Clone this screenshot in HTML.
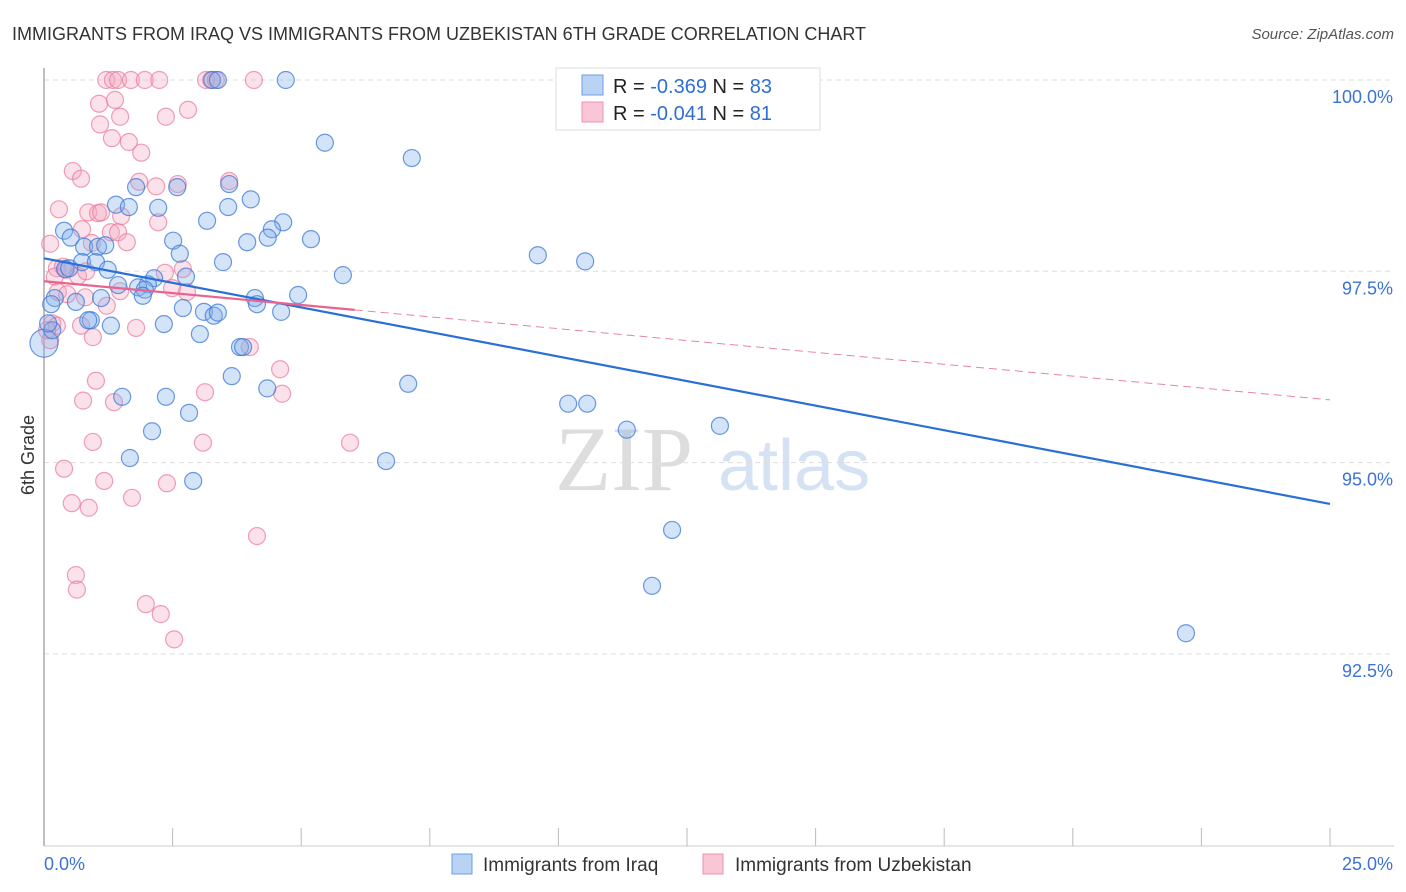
<!DOCTYPE html>
<html><head><meta charset="utf-8"><style>
body{margin:0;background:#fff;font-family:"Liberation Sans",sans-serif}
svg{display:block}
</style></head><body>
<svg id="chart" width="1406" height="892">
<text x="12" y="40" font-size="18" fill="#333">IMMIGRANTS FROM IRAQ VS IMMIGRANTS FROM UZBEKISTAN 6TH GRADE CORRELATION CHART</text>
<text x="1394" y="39" font-size="15" fill="#555" font-style="italic" text-anchor="end">Source: ZipAtlas.com</text>
<g><text x="555" y="490" font-size="92" fill="#ddd" font-family="Liberation Serif,serif">ZIP</text><text x="718" y="490" font-size="72" fill="#d5e2f4">atlas</text></g>
<g id="grid"></g>
<g id="axes"></g>
<g id="pts"></g>
<g id="trend"></g>
<text transform="translate(34,455) rotate(-90)" font-size="18" fill="#333" text-anchor="middle">6th Grade</text>
<g>
<rect x="556" y="68" width="264" height="62" fill="#fff" stroke="#ddd"/>
<rect x="582" y="75" width="21" height="20" fill="#b9d3f5" stroke="#6d9de4"/>
<rect x="582" y="102" width="21" height="20" fill="#f9c6d5" stroke="#ec93b0"/>
<text x="613" y="93" font-size="20" fill="#222">R = <tspan fill="#2f6fd4">-0.369</tspan>   N = <tspan fill="#2f6fd4">83</tspan></text>
<text x="613" y="120" font-size="20" fill="#222">R = <tspan fill="#2f6fd4">-0.041</tspan>   N = <tspan fill="#2f6fd4"> 81</tspan></text>
</g>
<g>
<rect x="452" y="854" width="20" height="20" fill="#b9d3f5" stroke="#6d9de4"/>
<text x="483" y="871" font-size="19" fill="#333">Immigrants from Iraq</text>
<rect x="703" y="854" width="20" height="20" fill="#f9c6d5" stroke="#ec93b0"/>
<text x="735" y="871" font-size="19" fill="#333">Immigrants from Uzbekistan</text>
</g>
</svg>
<script>
const yTicks=[100,97.5,95,92.5];
const yTickLabels=["100.0%","97.5%","95.0%","92.5%"];
const xEndLabels=["0.0%","25.0%"];
const iraqX=[0.0,4.70,3.27,3.38,14.11,5.46,7.15,1.79,2.59,3.60,4.02,2.22,1.40,1.65,3.17,3.58,4.65,4.43,0.39,0.52,2.51,5.19,4.35,3.95,0.78,1.05,1.19,9.60,10.52,2.64,3.48,0.74,1.01,1.24,0.41,0.49,5.81,2.14,2.76,2.02,1.83,1.96,1.44,1.92,0.21,0.62,1.11,4.10,4.94,4.14,2.70,3.11,3.30,3.38,4.61,0.91,0.86,1.30,2.33,3.03,3.81,3.87,3.65,4.34,7.08,1.52,2.37,2.82,10.19,10.56,2.10,11.33,13.14,1.67,6.65,2.90,12.21,11.82,22.20,0.16,0.14,0.08];
const iraqY=[96.56,100,100,100,100,99.18,98.98,98.60,98.60,98.64,98.44,98.33,98.37,98.34,98.16,98.34,98.14,98.05,98.03,97.94,97.90,97.92,97.94,97.88,97.82,97.82,97.84,97.71,97.63,97.73,97.62,97.62,97.62,97.52,97.53,97.54,97.45,97.41,97.43,97.33,97.29,97.26,97.32,97.18,97.15,97.10,97.15,97.15,97.19,97.07,97.02,96.97,96.92,96.96,96.97,96.86,96.86,96.79,96.81,96.68,96.51,96.51,96.13,95.97,96.03,95.86,95.86,95.65,95.77,95.77,95.41,95.43,95.48,95.06,95.02,94.76,94.12,93.39,92.77,96.73,97.07,96.82];
const uzbX=[1.21,1.34,1.44,1.69,1.96,2.24,3.15,3.25,3.34,4.08,1.07,1.38,1.09,1.48,2.37,2.80,1.32,1.65,1.89,0.56,0.72,1.85,2.18,2.60,3.60,0.29,0.86,1.05,1.11,1.30,1.50,2.22,1.44,0.12,1.61,0.93,0.74,0.25,0.37,0.43,0.21,0.66,0.82,2.35,2.70,0.27,0.45,0.80,1.22,1.48,2.49,2.78,0.16,0.25,0.72,0.95,1.79,4.00,4.59,1.01,0.76,1.36,3.13,4.63,0.95,3.09,5.95,0.39,1.17,2.39,1.71,0.54,0.87,4.14,0.62,0.64,1.98,2.27,2.53,0.12,0.06];
const uzbY=[100,100,100,100,100,100,100,100,100,100,99.69,99.74,99.42,99.52,99.52,99.61,99.24,99.19,99.05,98.81,98.71,98.67,98.61,98.64,98.68,98.31,98.27,98.26,98.27,98.01,98.22,98.14,98.01,97.86,97.88,97.87,98.05,97.54,97.56,97.52,97.43,97.44,97.50,97.48,97.53,97.23,97.20,97.16,97.05,97.24,97.28,97.23,96.82,96.79,96.79,96.64,96.76,96.51,96.22,96.07,95.81,95.79,95.92,95.90,95.27,95.26,95.26,94.92,94.76,94.73,94.54,94.47,94.41,94.04,93.53,93.34,93.15,93.02,92.69,96.60,96.73];
const iraqTrend=[97.67,94.46];
const uzbTrend=[97.37,95.82];
const uzbSolidEnd=6.04;
const NS="http://www.w3.org/2000/svg";
const X0=44,X1=1330,YT=80,PXPER=76.52;
const sx=v=>X0+(v/25)*(X1-X0);
const sy=v=>YT+(100-v)*PXPER;
function mk(tag,attrs,parent){const e=document.createElementNS(NS,tag);for(const k in attrs)e.setAttribute(k,attrs[k]);parent.appendChild(e);return e;}
const grid=document.getElementById('grid'),axes=document.getElementById('axes'),pts=document.getElementById('pts'),tr=document.getElementById('trend');
yTicks.forEach((t,i)=>{
 const l=mk('line',{x1:X0,x2:1394,y1:sy(t),y2:sy(t),stroke:'#ddd','stroke-dasharray':'5,4'},grid);
 
 
 const tx=mk('text',{x:1393,y:sy(t)+23,'font-size':18,fill:'#3b73d4','text-anchor':'end'},axes);
 tx.textContent=yTickLabels[i];
 
 
});
const ax=mk('line',{x1:X0,x2:X0,y1:68,y2:846,stroke:'#aaa','stroke-width':1.5},axes);


const bx=mk('line',{x1:X0,x2:1394,y1:846,y2:846,stroke:'#ccc'},axes);


for(let i=1;i<=10;i++){const t=mk('line',{x1:sx(i*2.5),x2:sx(i*2.5),y1:828,y2:846,stroke:'#bbb'},axes);
 
 }
[[0,'start',X0],[25,'end',1393]].forEach((d,i)=>{const t=mk('text',{x:d[2],y:870,'font-size':18,fill:'#3b73d4','text-anchor':d[1]},axes);t.textContent=xEndLabels[i];
 
 });
function drawPts(xs,ys,fill,stroke,name){xs.forEach((x,i)=>{const c=mk('circle',{cx:sx(x),cy:sy(ys[i]),r:(name==='iraq-point'&&i===0)?14:8.5,fill:fill,stroke:stroke,'stroke-width':1.2},pts);
 
 });}
drawPts(uzbX,uzbY,'rgba(244,170,192,0.35)','rgba(232,120,155,0.7)','uzbekistan-point');
drawPts(iraqX,iraqY,'rgba(130,175,235,0.35)','rgba(60,120,215,0.75)','iraq-point');
const l1=mk('line',{x1:sx(0),y1:sy(iraqTrend[0]),x2:sx(25),y2:sy(iraqTrend[1]),stroke:'#2a6fd6','stroke-width':2.2},tr);


const ym=uzbTrend[0]+(uzbTrend[1]-uzbTrend[0])*uzbSolidEnd/25;
const l2=mk('line',{x1:sx(0),y1:sy(uzbTrend[0]),x2:sx(uzbSolidEnd),y2:sy(ym),stroke:'#e8648f','stroke-width':2.2},tr);


const l3=mk('line',{x1:sx(uzbSolidEnd),y1:sy(ym),x2:sx(25),y2:sy(uzbTrend[1]),stroke:'#e8849f','stroke-width':1,'stroke-dasharray':'8,5'},tr);


</script>
</body></html>
